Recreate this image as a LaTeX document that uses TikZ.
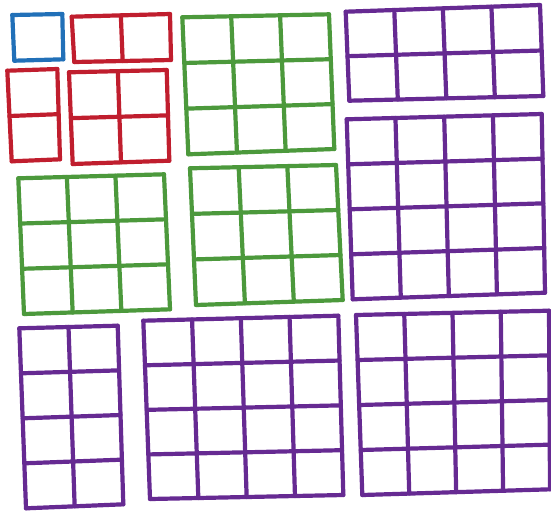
\documentclass[tikz,border=0pt]{standalone}
\usepackage{xcolor}
\usepackage{tikz}
\usetikzlibrary{calc}

\definecolor{sqblue}{RGB}{33,112,184}
\definecolor{sqred}{RGB}{192,30,46}
\definecolor{sqgreen}{RGB}{76,153,60}
\definecolor{sqpurple}{RGB}{102,42,146}

\begin{document}
\begin{tikzpicture}[x=0.5pt, y=-0.5pt, pen/.style={line width=2.1pt, line cap=round, line join=round}]
  \useasboundingbox (0,0) rectangle (551,510);
  % each grid: colour / rows / columns / top-left / top-right / bottom-left / bottom-right
  \foreach \col/\nr/\nc/\ax/\ay/\bx/\by/\cx/\cy/\dx/\dy in {
      sqblue/1/1/12.3/15/62.3/14/14.3/60.7/63.3/59.3,
      sqred/1/2/71.7/16.7/170/14/74.3/62/171/60,
      sqred/2/1/7.3/70.7/57.3/69/11.7/161.3/60/159.3,
      sqred/2/2/69/72.3/166.7/70/72.7/164/169.3/160.7,
      sqgreen/3/3/182.3/17.3/329/14.3/188.3/154.3/334.3/149,
      sqgreen/3/3/18.3/178.3/164/174.3/24/314/170/309.3,
      sqgreen/3/3/190/168.3/336/165/196/305/342.7/300,
      sqpurple/2/4/345.7/11.7/540/5/349.3/100.7/543.3/96,
      sqpurple/4/4/346.7/119.3/541.7/114/352.7/299.3/545/292.7,
      sqpurple/4/2/19.3/328.3/117.7/325.7/26/508.3/123.3/504.3,
      sqpurple/4/4/143.3/320.7/338.3/315.7/150/499/343.3/495,
      sqpurple/4/4/356/315/549/310.7/362.3/495/550/489.3} {
    \coordinate (tl) at (\ax,\ay);
    \coordinate (tr) at (\bx,\by);
    \coordinate (bl) at (\cx,\cy);
    \coordinate (br) at (\dx,\dy);
    % rows
    \foreach \i in {0,...,\nr}
      \draw[pen, \col] ($(tl)!{\i/\nr}!(bl)$) -- ($(tr)!{\i/\nr}!(br)$);
    % columns
    \foreach \j in {0,...,\nc}
      \draw[pen, \col] ($(tl)!{\j/\nc}!(tr)$) -- ($(bl)!{\j/\nc}!(br)$);
  }
\end{tikzpicture}
\end{document}
